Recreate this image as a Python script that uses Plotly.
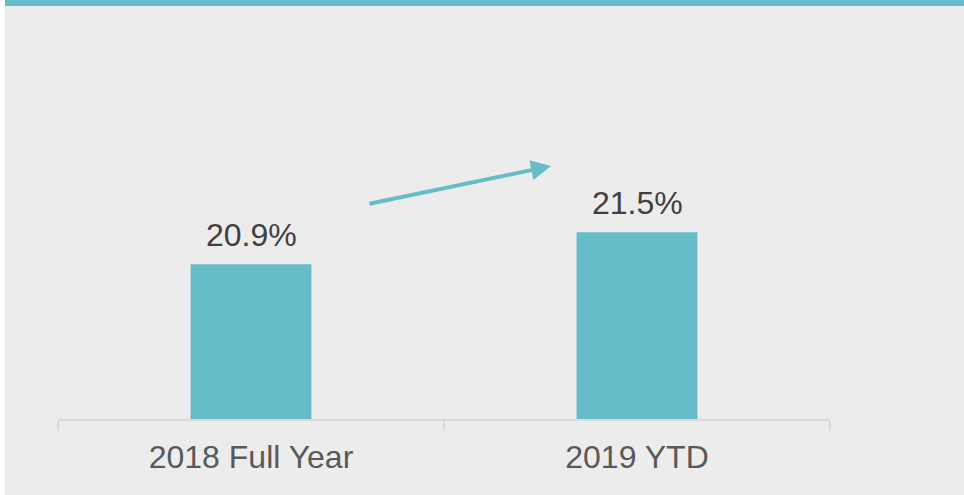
import plotly.graph_objects as go

categories = ["2018 Full Year", "2019 YTD"]
values = [20.9, 21.5]
labels = ["20.9%", "21.5%"]

TEAL = "#67BCC9"
BG = "#ECECEC"

fig = go.Figure()
fig.add_trace(go.Bar(x=categories, y=values, marker=dict(color=TEAL, line=dict(width=0)),
                     hoverinfo="skip"))

for c, v, t in zip(categories, values, labels):
    fig.add_annotation(x=c, y=v, text=t, showarrow=False, yanchor="bottom", yshift=9,
                       font=dict(size=32, color="#404040", family="Liberation Sans, Arial, sans-serif"))

# growth arrow
fig.add_annotation(xref="paper", yref="paper", x=0.6386, y=0.634, ax=-183, ay=38,
                   axref="pixel", ayref="pixel", showarrow=True, arrowhead=2, arrowsize=1,
                   arrowwidth=4, arrowcolor=TEAL, text="")

# left white strip and top band
fig.add_shape(type="rect", xref="paper", yref="paper", x0=-0.08, x1=-0.06865, y0=-0.2, y1=1.06,
              fillcolor="white", line=dict(width=0))
fig.add_shape(type="rect", xref="paper", yref="paper", x0=-0.06865, x1=1.18, y0=1.0351, y1=1.06,
              fillcolor=TEAL, line=dict(width=0))

fig.update_layout(
    width=964, height=495,
    margin=dict(l=58, r=134, t=20, b=76),
    paper_bgcolor=BG, plot_bgcolor=BG,
    bargap=0.687,
    showlegend=False,
    font=dict(family="Liberation Sans, Arial, sans-serif"),
)
fig.update_xaxes(showline=True, linecolor="#D9D9D9", linewidth=1.5, ticks="outside",
                 tickson="boundaries", ticklen=10, tickcolor="#D9D9D9", tickwidth=1.5,
                 ticklabelstandoff=9,
                 tickfont=dict(size=32, color="#595959"), showgrid=False)
fig.update_yaxes(visible=False, range=[18, 25.48])

fig.write_html("out.html", config={"displayModeBar": False},
               post_script="document.body.style.margin='0';document.body.style.overflow='hidden';")
